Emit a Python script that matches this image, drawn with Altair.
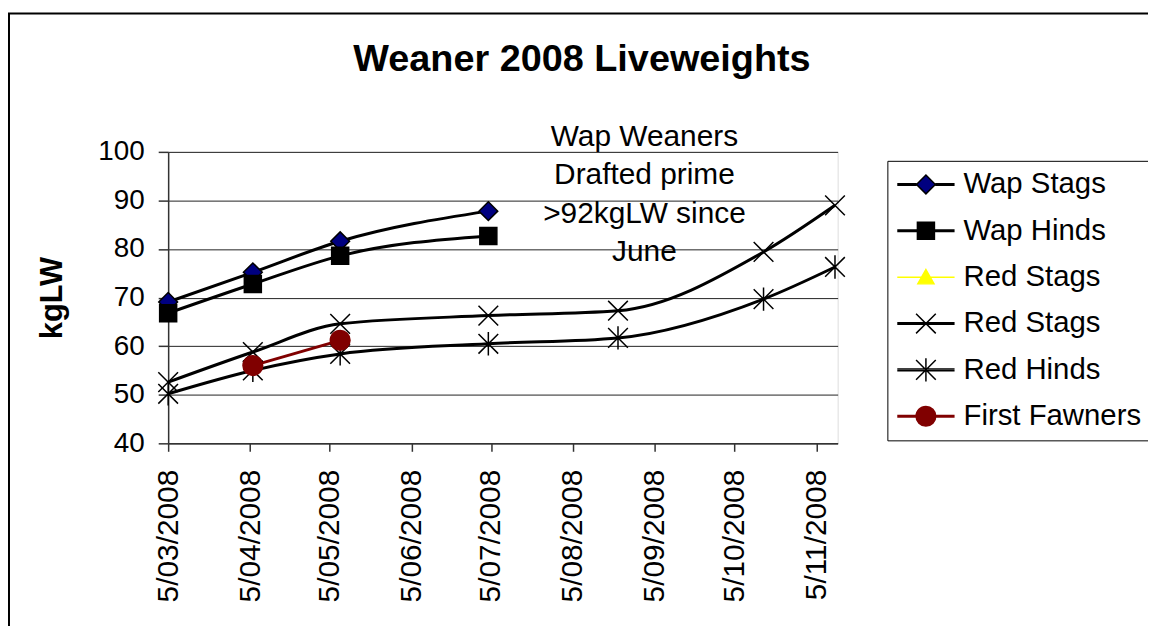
import altair as alt
import pandas as pd

FONT = "Liberation Sans"

# ---------------- data ----------------
series_names = ["Wap Stags", "Wap Hinds", "Red Stags", "Red Stags ", "Red Hinds", "First Fawners"]

wap_dates = ["2008-03-05", "2008-04-06", "2008-05-09", "2008-07-04"]
wap_stags_kg = [69.1, 75.2, 81.6, 87.8]
wap_hinds_kg = [66.8, 72.8, 78.6, 82.7]

red_yellow_dates = []
red_yellow_kg = []

red_dates = ["2008-03-05", "2008-04-06", "2008-05-09", "2008-07-04",
             "2008-08-22", "2008-10-16", "2008-11-12"]
red_stags_kg = [52.6, 58.8, 64.6, 66.3, 67.3, 79.4, 89.0]
red_hinds_kg = [50.2, 55.0, 58.4, 60.5, 61.7, 69.7, 76.3]

fawner_dates = ["2008-04-06", "2008-05-09"]
fawner_kg = [56.0, 61.2]

y_ticks = [40, 50, 60, 70, 80, 90, 100]
x_tick_months = [3, 4, 5, 6, 7, 8, 9, 10, 11]

note_text = "Wap Weaners\nDrafted prime\n>92kgLW since\nJune"
note_date = "2008-09-01"
note_kg = 101.2

# ---------------- styles ----------------
line_colors = ["#000000", "#000000", "#FFFF00", "#000000", "#000000", "#800000"]
fill_colors = ["#000080", "#000000", "#FFFF00", "transparent", "transparent", "#800000"]
stroke_colors = ["#000000", "#000000", "#FFFF00", "#000000", "#000000", "#800000"]

circle = ("M-1.1,0C-1.1,-0.607,-0.607,-1.1,0,-1.1C0.607,-1.1,1.1,-0.607,1.1,0"
          "C1.1,0.607,0.607,1.1,0,1.1C-0.607,1.1,-1.1,0.607,-1.1,0Z")
diamond = "M0,-1.05L1.05,0L0,1.05L-1.05,0Z"
square = "M-0.95,-0.95L0.95,-0.95L0.95,0.95L-0.95,0.95Z"
triangle = "M0,-0.85L0.9,0.75L-0.9,0.75Z"
xmark = "M-1.1,-1.1L1.1,1.1M-1.1,1.1L1.1,-1.1"
star = "M-1.1,-1.1L1.1,1.1M-1.1,1.1L1.1,-1.1M0,-1.3L0,1.3"
marker_paths = [diamond, square, triangle, xmark, star, circle]

thick_full = "M-3.2,-0.09L3.2,-0.09M-3.2,0.09L3.2,0.09"
thick_split = ("M-3.2,-0.09L-1.05,-0.09M-3.2,0.09L-1.05,0.09"
               "M1.05,-0.09L3.2,-0.09M1.05,0.09L3.2,0.09")
thin_full = "M-3.2,0L3.2,0"
legend_paths = [thick_split + diamond, thick_full + square, thin_full + triangle,
                thick_full + xmark, thick_full + star, thick_full + circle]

# ---------------- table ----------------
rows = []
for name, dates, vals in [
    (series_names[0], wap_dates, wap_stags_kg),
    (series_names[1], wap_dates, wap_hinds_kg),
    (series_names[2], red_yellow_dates, red_yellow_kg),
    (series_names[3], red_dates, red_stags_kg),
    (series_names[4], red_dates, red_hinds_kg),
    (series_names[5], fawner_dates, fawner_kg),
]:
    for d, v in zip(dates, vals):
        rows.append({"series": name, "date": d, "kg": v})
df = pd.DataFrame(rows)
one = pd.DataFrame({"a": [0]})
note_df = pd.DataFrame({"date": [note_date], "kg": [note_kg], "note": [note_text]})

W, H = 673, 293
PAD_L, PAD_T = 161, 143
PAD_R = 1146 - PAD_L - W
PAD_B = 618 - PAD_T - H

x_enc = alt.X(
    "date:T",
    title=None,
    scale=alt.Scale(type="utc", domain=[
        alt.DateTime(year=2008, month=3, date=5, utc=True),
        alt.DateTime(year=2008, month=11, date=13, utc=True)]),
    axis=alt.Axis(
        values=[alt.DateTime(year=2008, month=m, date=5, utc=True) for m in x_tick_months],
        format="%-d/%m/%Y", labelAngle=270, labelFontSize=30, labelPadding=18,
        tickSize=8, grid=False, labelOverlap=False, labelFlush=False,
        domainColor="#333333", tickColor="#333333", labelColor="black",
        domainWidth=1.5, tickWidth=1.5, labelFont=FONT),
)
y_enc = alt.Y(
    "kg:Q",
    scale=alt.Scale(domain=[40, 100], nice=False, zero=False),
    axis=alt.Axis(
        values=y_ticks, title="kgLW", titleFontSize=31, titleFontWeight="bold",
        titlePadding=30, titleFont=FONT, titleColor="black",
        labelFontSize=28, labelPadding=14, tickSize=10, labelFont=FONT,
        labelColor="black", grid=True, gridColor="#222222", gridWidth=1,
        domainColor="#333333", tickColor="#333333", domainWidth=1.5, tickWidth=1.5),
)

lines = alt.Chart(df).mark_line(interpolate="monotone", strokeWidth=3).encode(
    x=x_enc, y=y_enc,
    color=alt.Color("series:N", scale=alt.Scale(domain=series_names, range=line_colors), legend=None),
)

points = alt.Chart(df).mark_point(filled=True, size=324, opacity=1, strokeWidth=1.5).encode(
    x=x_enc, y=y_enc,
    shape=alt.Shape("series:N", scale=alt.Scale(domain=series_names, range=marker_paths), legend=None),
    fill=alt.Fill("series:N", scale=alt.Scale(domain=series_names, range=fill_colors), legend=None),
    stroke=alt.Stroke("series:N", scale=alt.Scale(domain=series_names, range=stroke_colors), legend=None),
)

leg = alt.Legend(
    title=None, orient="none", legendX=723, legendY=9, padding=9,
    strokeColor="black", labelFontSize=29.5, labelFont=FONT, labelColor="black",
    symbolSize=324, symbolStrokeWidth=1.5, symbolOffset=15, labelOffset=23,
    rowPadding=15.6, labelLimit=400,
)
legend_layer = alt.Chart(df).transform_filter("false").mark_point(
    filled=True, size=324, opacity=1, strokeWidth=1.5).encode(
    x=x_enc, y=y_enc,
    shape=alt.Shape("series:N", scale=alt.Scale(domain=series_names, range=legend_paths), legend=leg),
    fill=alt.Fill("series:N", scale=alt.Scale(domain=series_names, range=fill_colors), legend=leg),
    stroke=alt.Stroke("series:N", scale=alt.Scale(domain=series_names, range=stroke_colors), legend=leg),
)

note = alt.Chart(note_df).mark_text(
    font=FONT, fontSize=30, lineHeight=38.5, align="center", baseline="alphabetic",
    lineBreak="\n", color="black").encode(x=x_enc, y=y_enc, text="note:N")

title = alt.Chart(one).mark_text(
    text="Weaner 2008 Liveweights", font=FONT, fontSize=38, fontWeight="bold",
    align="center", baseline="alphabetic", color="black").encode(
    x=alt.value(416), y=alt.value(-81))

frame = alt.Chart(one).mark_rect(fill="transparent", stroke="black", strokeWidth=2).encode(
    x=alt.value(-160), x2=alt.value(1000), y=alt.value(-139), y2=alt.value(520))

chart = alt.layer(frame, title, lines, points, legend_layer, note).resolve_scale(
    shape="independent", fill="independent", stroke="independent"
).properties(
    width=W, height=H,
    autosize=alt.AutoSizeParams(type="none"),
    padding={"left": PAD_L, "top": PAD_T, "right": PAD_R, "bottom": PAD_B},
    background="white",
).configure_view(stroke="#808080", strokeWidth=1.5).configure(font=FONT)

chart.save("out.html", embed_options={"renderer": "svg", "actions": False})
